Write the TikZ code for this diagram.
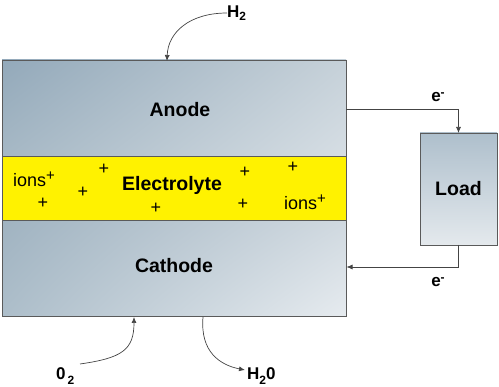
\documentclass[tikz,border=0pt]{standalone}
\usepackage{fontspec}
\setmainfont{Liberation Sans}
\usetikzlibrary{arrows.meta,calc,shadings}
\definecolor{edge}{HTML}{5A5A5A}
\definecolor{wire}{HTML}{444444}
\definecolor{elyellow}{HTML}{FFF200}
\definecolor{aUL}{HTML}{93A9BA}
\definecolor{aUR}{HTML}{C6D1D9}
\definecolor{aLL}{HTML}{A6B8C5}
\definecolor{aLR}{HTML}{D6DEE4}
\definecolor{cUL}{HTML}{A0B3C1}
\definecolor{cUR}{HTML}{D0D9E0}
\definecolor{cLL}{HTML}{ADBECA}
\definecolor{cLR}{HTML}{E6EBEF}
\definecolor{lT}{HTML}{AEBFCC}
\definecolor{lB}{HTML}{E4E9ED}
\tikzset{
  part/.style={draw=edge,line width=0.8pt,inner sep=0pt,outer sep=0pt,minimum width=344pt},
  big/.style={font=\fontsize{19.5}{22}\selectfont\bfseries,inner sep=0pt},
  small/.style={font=\fontsize{17}{20}\selectfont\bfseries,inner sep=0pt},
  ionlbl/.style={font=\fontsize{18}{20}\selectfont,inner sep=0pt},
  plus/.style={font=\fontsize{18}{20}\selectfont,inner sep=0pt},
  conn/.style={draw=wire,line width=0.7pt,-{Latex[length=6pt,width=5pt]}},
}
\newcommand{\supplus}{\raisebox{6pt}{\fontsize{15}{16}\selectfont +}}
\begin{document}
\begin{tikzpicture}[x=1pt,y=-1pt]
\useasboundingbox (0,0) rectangle (499,387);
% boxes
\node[part,minimum height=96pt,upper left=aUL,upper right=aUR,lower left=aLL,lower right=aLR] (anode) at (174,108) {};
\node[part,minimum height=96pt,upper left=cUL,upper right=cUR,lower left=cLL,lower right=cLR] (cathode) at (174,268) {};
\node[part,minimum height=64pt,fill=elyellow] (elec) at (174,188) {};
\node[draw=edge,line width=0.8pt,inner sep=0pt,outer sep=0pt,minimum width=77pt,minimum height=112pt,top color=lT,bottom color=lB,big] (load) at (458.5,189) {Load};
% labels
\node[big] (anodelbl) at (180,110) {Anode};
\node[big] (eleclbl) at (172,185) {Electrolyte};
\node[big] (cathlbl) at (174,266) {Cathode};
\node[ionlbl,anchor=west] (ionsA) at (13,179) {ions\supplus};
\node[ionlbl,anchor=west] (ionsB) at (284,202) {ions\supplus};
\node[plus] (p1) at (104,169) {+};
\node[plus] (p2) at (83,192) {+};
\node[plus] (p3) at (43,203) {+};
\node[plus] (p4) at (156,208) {+};
\node[plus] (p5) at (245,172) {+};
\node[plus] (p6) at (243,204) {+};
\node[plus] (p7) at (293,167) {+};
% gas labels
\node[small,anchor=west] (h2) at (227,13) {H\textsubscript{2}};
\node[small,anchor=west] (o2) at (56,376) {0\hspace{2pt}\raisebox{-5pt}{\fontsize{12}{14}\selectfont 2}};
\node[small,anchor=west] (h2o) at (247,376) {H\raisebox{-5pt}{\fontsize{12}{14}\selectfont 2}0};
\node[small] (etop) at (438,97) {e\raisebox{5pt}{\fontsize{12}{14}\selectfont -}};
\node[small] (ebot) at (438,282) {e\raisebox{5pt}{\fontsize{12}{14}\selectfont -}};
% coordinates
\coordinate (h2in) at (167,61);
\coordinate (o2in) at (134,317);
\coordinate (h2oout) at (203,317);
\coordinate (aout) at (346,109);
\coordinate (cin) at (346.5,267);
\coordinate (o2start) at (80,364);
\coordinate (h2oend) at (245,370);
% connectors
\draw[conn] (h2.west) .. controls (190,13) and (168,32) .. (h2in);
\draw[conn] (o2start) .. controls (122,358) and (134,350) .. (o2in);
\draw[conn] (h2oout) .. controls (200,352) and (220,365) .. (h2oend);
\draw[conn] (aout) -| (load.north);
\draw[conn] (load.south) |- (cin);
\end{tikzpicture}
\end{document}
